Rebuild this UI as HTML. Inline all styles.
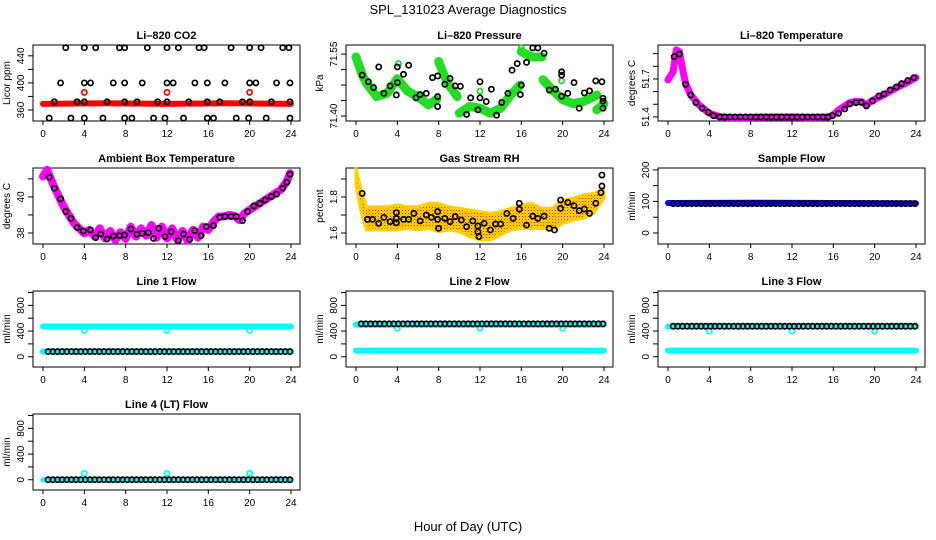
<!DOCTYPE html>
<html><head><meta charset="utf-8"><style>
html,body{margin:0;padding:0;background:#fff;}
svg{display:block;font-family:"Liberation Sans",Arial,sans-serif;}
</style></head><body>
<svg id="chart" width="936" height="540" viewBox="0 0 936 540">
<defs>
<pattern id="speckle" width="3" height="3" patternUnits="userSpaceOnUse">
<rect width="3" height="3" fill="#ffd800"/>
<rect x="0" y="0" width="1" height="1" fill="#e82000"/>
<rect x="1.5" y="1.5" width="1" height="1" fill="#f07000"/>
</pattern>
</defs>
<text x="468" y="14" text-anchor="middle" font-size="13">SPL_131023  Average Diagnostics</text>
<text x="468" y="531" text-anchor="middle" font-size="13">Hour of Day (UTC)</text>
</svg>
<script>
// ---- data ----
const xTicks = [0,4,8,12,16,20,24];
// CO2
const co2TopX = [2.2,4,5.1,7.4,7.9,10.1,12,13.1,15.1,15.6,18.2,20,21.1,23.2,23.8];
const co2TopV = 452;
const co2MidX = [1.7,4,4.6,6.8,7.9,9.6,12,12.6,14.7,15.9,17.6,20,20.6,22.6,23.9];
const co2MidV = 400;
const co2LowX = [1.1,3.3,4,6.2,7.9,9.1,11.1,12,14.1,15.9,17.1,19.3,20,22.1,23.9];
const co2LowV = 372;
const co2BotX = [0.6,2.7,4,5.8,7.9,8.6,10.7,11.8,13.6,15.9,16.5,18.7,19.9,21.6,23.9];
const co2BotV = 348;
const co2BandX = [0,6,12,18,24];
const co2BandV = [369,370,369,370,369];
const co2RedX = [4,12,20];
const co2RedV = [386,386,386];
// Pressure
const presBandX = [0,0.6,1,2,3,4,5,6,7,7.8,null,8,8.5,9,9.8,null,10,11,12,13,14,15,15.9,null,16,17,18,null,18.1,19,20,21,22,23,23.3,null,23.3,24];
const presBandV = [71.543,71.50,71.48,71.447,71.455,71.49,71.46,71.447,71.427,71.44,null,71.532,71.50,71.475,71.447,null,71.407,71.423,71.419,71.407,71.419,71.452,71.475,null,71.556,71.543,71.543,null,71.488,71.463,71.44,71.43,71.435,71.447,71.451,null,71.415,71.43];
const presPtX = [0.6,1.2,1.7,2.2,2.7,3.3,3.9,4,4,4.6,5.1,5.8,6.2,6.8,7.4,7.9,7.9,7.9,8.6,9.1,9.6,10.1,10.7,11.1,11.8,12,12,12.6,13.1,13.6,14.1,14.7,15.1,15.6,15.9,16,16.5,17.1,17.6,18.2,18.7,19.3,19.9,19.9,19.9,20.5,21.1,21.6,22.1,22.6,23.2,23.8,23.9,23.9,23.9];
const presPtV = [71.499,71.483,71.469,71.519,71.455,71.473,71.451,71.519,71.481,71.501,71.523,71.444,71.452,71.455,71.493,71.447,71.497,71.423,71.477,71.491,71.473,71.472,71.404,71.444,71.415,71.483,71.444,71.435,71.465,71.402,71.433,71.455,71.511,71.527,71.452,71.475,71.530,71.565,71.565,71.552,71.463,71.465,71.499,71.448,71.507,71.455,71.481,71.419,71.456,71.461,71.485,71.483,71.443,71.419,71.436];
const presGreenX = [4.1,8.1,12,16,19.9];
const presGreenV = [71.527,71.527,71.46,71.565,71.485];
// Li-820 temperature
const tempBandX = [0,0.5,0.8,1.1,1.4,1.7,2.2,3,4,5,6,8,10,12,14,15.5,16,16.5,17,17.5,18,18.7,19.2,19.7,20.5,21,22,23,24];
const tempBandV = [51.692,51.758,51.929,51.916,51.784,51.666,51.574,51.495,51.429,51.403,51.395,51.397,51.40,51.40,51.397,51.40,51.416,51.455,51.481,51.508,51.521,51.521,51.495,51.526,51.56,51.579,51.626,51.666,51.71];
const tempPtX = [0.6,1.1,1.7,2.2,2.7,3.3,3.9,4.4,5,5.5,6,6.5,7,7.5,8,8.5,9,9.5,10,10.5,11,11.5,12,12.5,13,13.5,14,14.5,15,15.5,15.9,16.5,17.1,17.6,18.2,18.7,19.2,19.8,20.4,20.9,21.5,22.1,22.6,23.2,23.8];
const tempPtV = [51.876,51.897,51.658,51.574,51.513,51.469,51.437,51.41,51.40,51.40,51.40,51.40,51.40,51.40,51.40,51.40,51.40,51.40,51.40,51.40,51.40,51.40,51.40,51.40,51.40,51.40,51.40,51.40,51.40,51.40,51.41,51.429,51.463,51.503,51.513,51.516,51.487,51.526,51.566,51.582,51.613,51.637,51.663,51.687,51.71];
// Ambient box temperature
const ambBandX = [0,0.4,1,2,3,3.5,4,4.5,5,5.5,6,6.5,7,7.5,8,8.5,9,9.5,10,10.5,11,11.5,12,12.5,13,13.5,14,14.5,15,15.5,16,16.5,17,17.5,18,18.5,19,19.5,20,21,22,23,23.6,23.9];
const ambBandV = [41.13,41.5,40.67,39.46,38.54,38.26,37.98,38.17,37.80,38.26,37.70,38.11,37.61,38.04,37.67,38.35,37.80,38.26,37.85,38.44,37.74,38.35,37.70,38.26,37.61,38.11,37.57,38.17,37.74,38.35,38.17,38.63,38.91,38.91,39.0,38.96,38.72,39.09,39.28,39.65,40.02,40.39,40.85,41.31];
const ambPtX = [0.6,1.1,1.7,2.2,2.7,3.3,3.9,4.6,5.1,5.6,6.2,6.8,7.4,7.9,8.5,9.1,9.6,10.2,10.7,11.2,11.8,12.4,13.1,13.6,14.2,14.7,15.3,15.8,16.5,17.1,17.6,18.2,18.7,19.3,19.8,20.4,21,21.5,22.1,22.6,23.2,23.6,23.9];
const ambPtV = [41.09,40.48,39.89,39.19,38.81,38.30,38.11,38.17,37.74,37.94,37.67,37.83,37.85,37.89,38.22,37.93,37.98,38.02,37.70,38.26,37.80,38.07,37.57,37.94,37.65,38.13,37.85,38.35,38.41,38.87,38.91,38.91,38.91,38.68,39.19,39.5,39.63,39.83,40.02,40.15,40.48,40.82,41.26];
// Gas stream RH
const rhBandX = [0,0.5,1,2,3,4,5,6,7,8,9,10,11,12,13,14,15,16,17,18,19,20,21,22,23,24];
const rhBandHi = [1.959,1.839,1.746,1.746,1.746,1.756,1.746,1.746,1.765,1.765,1.746,1.737,1.728,1.719,1.709,1.719,1.737,1.756,1.765,1.737,1.737,1.783,1.793,1.811,1.82,1.839];
const rhBandLo = [1.867,1.719,1.617,1.617,1.617,1.617,1.626,1.617,1.626,1.607,1.617,1.607,1.580,1.561,1.561,1.589,1.617,1.626,1.626,1.626,1.617,1.654,1.672,1.681,1.709,1.793];
const rhPtX = [0.6,1.1,1.6,2.2,2.7,3.3,3.9,3.9,3.9,4.6,5.1,5.6,6.2,6.8,7.3,7.9,7.9,8,8.6,9.1,9.6,10.2,10.7,11.3,11.8,11.8,11.9,12.4,13,13.5,14,14.6,15.2,15.8,15.8,16.5,17.1,17.6,18.2,18.7,19.2,19.8,19.8,20.5,21.1,21.6,22.1,22.6,23.2,23.7,23.8,23.8];
const rhPtV = [1.820,1.676,1.676,1.654,1.687,1.663,1.713,1.657,1.681,1.676,1.676,1.709,1.667,1.70,1.687,1.719,1.676,1.626,1.681,1.663,1.691,1.672,1.635,1.667,1.639,1.607,1.580,1.654,1.617,1.65,1.65,1.709,1.681,1.765,1.732,1.644,1.694,1.681,1.694,1.626,1.617,1.783,1.737,1.770,1.752,1.724,1.733,1.709,1.765,1.824,1.861,1.922];
// Sample flow
const sfBandX = [0,8,16,24];
const sfBandV = [95,96,95,94];
const sfPtV = 93;
// Flow lines (level values)
const flowHours = [0.5,0.95,1.4,1.85,2.3,2.75,3.2,3.65,4.1,4.55,5,5.45,5.9,6.35,6.8,7.25,7.7,8.15,8.6,9.05,9.5,9.95,10.4,10.85,11.3,11.75,12.2,12.65,13.1,13.55,14,14.45,14.9,15.35,15.8,16.25,16.7,17.15,17.6,18.05,18.5,18.95,19.4,19.85,20.3,20.75,21.2,21.65,22.1,22.55,23,23.45,23.9];
const l1CyanHi = 470, l1CyanLo = 80, l1Black = 80, l1Dip = 410;
const l2CyanHi = 500, l2CyanLo = 96, l2Black = 512, l2Dip = 440;
const l3CyanHi = 470, l3CyanLo = 96, l3Black = 475, l3Dip = 400;
const l4Cyan = 0, l4Black = 0, l4Dip = 100;
const dipHours = [4,12,20];

// ---- layout ----
const svg = document.getElementById('chart');
const NS = 'http://www.w3.org/2000/svg';
const colX = [33,346,658];
const rowY = [45,168,291,414];
const BW = 267, BH = 76;
function mk(tag, attrs, parent){const e=document.createElementNS(NS,tag);for(const k in attrs)e.setAttribute(k,attrs[k]);(parent||svg).appendChild(e);return e;}

function panel(col,row,title,ylab,ymin,ymax,ticks,labels,name){
  const L=colX[col], T=rowY[row];
  const g=mk('g',{});
  
  
  const sx=v=>L+10+v*(248/24);
  const sy=v=>T+BH-(v-ymin)/(ymax-ymin)*BH;
  const t=mk('text',{x:L+BW/2,y:T-6,'text-anchor':'middle','font-size':'11','font-weight':'bold'},g);
  t.textContent=title;
  
  
  const box=mk('rect',{x:L,y:T,width:BW,height:BH,fill:'none',stroke:'#000','stroke-width':'1'},g);
  
  
  const xa=mk('g',{},g);
  
  
  xTicks.forEach(v=>{
    mk('line',{x1:sx(v),x2:sx(v),y1:T+BH,y2:T+BH+4,stroke:'#000'},xa);
    const tl=mk('text',{x:sx(v),y:T+BH+16,'text-anchor':'middle','font-size':'10'},xa);
    tl.textContent=v;
  });
  const ya=mk('g',{},g);
  
  
  ticks.forEach((v,i)=>{
    mk('line',{x1:L-5,x2:L,y1:sy(v),y2:sy(v),stroke:'#000'},ya);
    if(labels[i]!==''){
      const tl=mk('text',{x:L-9,y:sy(v),'text-anchor':'middle','font-size':'10',transform:`rotate(-90 ${L-9} ${sy(v)})`},ya);
      tl.textContent=labels[i];
    }
  });
  const yl=mk('text',{x:L-23,y:T+BH/2,'text-anchor':'middle','font-size':'10',transform:`rotate(-90 ${L-23} ${T+BH/2})`},g);
  yl.textContent=ylab;
  
  
  const clip=mk('g',{},g);
  return {g:clip,sx,sy};
}
function band(p,xs,vs,color,w,name){
  let d='',pen=false;
  xs.forEach((x,i)=>{ if(x===null||vs[i]===null){pen=false;return;} d+=(pen?'L':'M')+p.sx(x)+' '+p.sy(vs[i])+' '; pen=true;});
  const e=mk('path',{d,fill:'none',stroke:color,'stroke-width':w,'stroke-linecap':'round','stroke-linejoin':'round'},p.g);
  
  
}
function area(p,xs,hi,lo,color,name){
  let d='';
  xs.forEach((x,i)=>{d+=(i?'L':'M')+p.sx(x)+' '+p.sy(hi[i])+' ';});
  for(let i=xs.length-1;i>=0;i--) d+='L'+p.sx(xs[i])+' '+p.sy(lo[i])+' ';
  const e=mk('path',{d:d+'Z',fill:color,stroke:'#ffd000','stroke-width':'3','stroke-linejoin':'round'},p.g);
  
  
}
function pts(p,xs,vs,color,name){
  const grp=mk('g',{},p.g);
  
  
  xs.forEach((x,i)=>{
    const v=Array.isArray(vs)?vs[i]:vs;
    const c=mk('circle',{cx:p.sx(x),cy:p.sy(v),r:2.6,fill:'none',stroke:color,'stroke-width':'1.7'},grp);
    
    
  });
}

// CO2
let p=panel(0,0,'Li\u2013820 CO2','Licor ppm',343.7,456,[360,380,400,420,440],['360','','400','','440'],'co2');
band(p,co2BandX,co2BandV,'#ff0000',6,'co2-red-band');
pts(p,co2RedX,co2RedV,'#ff0000','co2-red-outliers');
pts(p,co2TopX,co2TopV,'#000','co2-black-top');
pts(p,co2MidX,co2MidV,'#000','co2-black-mid');
pts(p,co2LowX,co2LowV,'#000','co2-black-low');
pts(p,co2BotX,co2BotV,'#000','co2-black-bottom');

// Pressure
p=panel(1,0,'Li\u2013820 Pressure','kPa',71.388,71.572,[71.40,71.4375,71.475,71.5125,71.55],['71.40','','','','71.55'],'pressure');
band(p,presBandX,presBandV,'#22dd22',9,'pressure-green-band');
pts(p,presGreenX,presGreenV,'#22dd22','pressure-green-outliers');
pts(p,presPtX,presPtV,'#000','pressure-black-points');

// Li-820 temperature
p=panel(2,0,'Li\u2013820 Temperature','degrees C',51.368,51.968,[51.4,51.5,51.6,51.7,51.8,51.9],['51.4','','','51.7','',''],'li820-temp');
band(p,tempBandX,tempBandV,'#ff00ff',7,'li820-temp-band');
pts(p,tempPtX,tempPtV,'#000','li820-temp-points');

// Ambient
p=panel(0,1,'Ambient Box Temperature','degrees C',37.39,41.6,[38,39,40,41],['38','','40',''],'ambient-temp');
band(p,ambBandX,ambBandV,'#ff00ff',8,'ambient-temp-band');
pts(p,ambPtX,ambPtV,'#000','ambient-temp-points');

// Gas RH
p=panel(1,1,'Gas Stream RH','percent',1.539,1.961,[1.6,1.7,1.8,1.9],['1.6','','1.8',''],'gas-rh');
area(p,rhBandX,rhBandHi,rhBandLo,'url(#speckle)','gas-rh-band');
pts(p,rhPtX,rhPtV,'#000','gas-rh-points');

// Sample flow
p=panel(2,1,'Sample Flow','ml/min',-35,206,[0,50,100,150,200],['0','','100','','200'],'sample-flow');
band(p,sfBandX,sfBandV,'#0000ff',6,'sample-flow-band');
pts(p,flowHours,sfPtV,'#000','sample-flow-points');

const fT=[0,200,400,600,800,1000], fL=['0','','400','','800',''];
// Line 1
p=panel(0,2,'Line 1 Flow','ml/min',-160,1024,fT,fL,'line1-flow');
band(p,[0,24],[l1CyanHi,l1CyanHi],'#00ffff',6,'line1-cyan-high');
band(p,[0,24],[l1CyanLo,l1CyanLo],'#00ffff',6,'line1-cyan-low');
pts(p,dipHours,l1Dip,'#00ffff','line1-dips');
pts(p,flowHours,l1Black,'#000','line1-black');
// Line 2
p=panel(1,2,'Line 2 Flow','ml/min',-160,1024,fT,fL,'line2-flow');
band(p,[0,24],[l2CyanHi,l2CyanHi],'#00ffff',6,'line2-cyan-high');
band(p,[0,24],[l2CyanLo,l2CyanLo],'#00ffff',6,'line2-cyan-low');
pts(p,dipHours,l2Dip,'#00ffff','line2-dips');
pts(p,flowHours,l2Black,'#000','line2-black');
// Line 3
p=panel(2,2,'Line 3 Flow','ml/min',-160,1024,fT,fL,'line3-flow');
band(p,[0,24],[l3CyanHi,l3CyanHi],'#00ffff',6,'line3-cyan-high');
band(p,[0,24],[l3CyanLo,l3CyanLo],'#00ffff',6,'line3-cyan-low');
pts(p,dipHours,l3Dip,'#00ffff','line3-dips');
pts(p,flowHours,l3Black,'#000','line3-black');
// Line 4
p=panel(0,3,'Line 4 (LT) Flow','ml/min',-160,1024,fT,fL,'line4-flow');
band(p,[0,24],[l4Cyan,l4Cyan],'#00ffff',5,'line4-cyan');
pts(p,dipHours,l4Dip,'#00ffff','line4-dips');
pts(p,flowHours,l4Black,'#000','line4-black');
</script>
</body></html>
